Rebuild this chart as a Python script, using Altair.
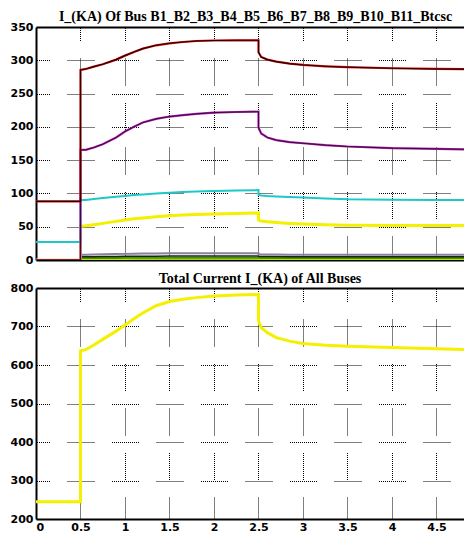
import altair as alt
import pandas as pd

# time points (s)
t = [0, 0.5, 0.5, 0.56, 0.65, 0.75, 0.9, 1.0, 1.1, 1.2, 1.35, 1.5, 1.65, 1.8, 2.0, 2.25, 2.5,
     2.5, 2.53, 2.6, 2.7, 2.85, 3.0, 3.25, 3.5, 4.0, 4.5, 4.9]

# bus currents I_(KA)
bus_red    = [88, 88, 285.5, 287, 290.5, 294, 301, 307, 312.5, 317.5, 322.5, 325.5, 327.5, 329, 329.7, 330, 330,
              312, 305, 301, 298, 295, 293, 291, 289.6, 288, 287, 286.6]
bus_purple = [0, 0, 165.4, 165.5, 169, 174, 184, 193, 200, 206.5, 212, 215.5, 217.5, 219.5, 221.4, 222.3, 222.8,
              199, 190, 184, 180, 177, 175.4, 172.5, 170.5, 168, 167, 166]
bus_cyan   = [27, 27, 90, 90.3, 91.5, 93, 95, 96.3, 97.5, 98.5, 100, 101, 102, 102.8, 103.7, 104.5, 105,
              98, 96.8, 96, 95.3, 94.5, 93.8, 92.5, 91.3, 90.5, 90.2, 90]
bus_yellow = [0, 0, 51, 51.3, 53, 55, 58, 60, 61.8, 63.2, 65, 66.5, 67.5, 68.3, 69, 70, 70.5,
              60, 58.5, 57.3, 56.3, 55, 54, 53, 52.3, 52, 51.8, 51.7]
bus_gray   = [0, 0, 8, 8, 8.2, 8.5, 9, 9.2, 9.4, 9.6, 9.8, 10, 10, 10, 10, 10, 10,
              8.5, 8.3, 8.2, 8.1, 8, 8, 8, 8, 8, 8, 8]
bus_black  = [0, 0, 5, 5, 5, 5.2, 5.4, 5.5, 5.6, 5.7, 5.8, 6, 6, 6, 6, 6, 6,
              5.5, 5.3, 5.2, 5.1, 5, 5, 5, 5, 5, 5, 5]
bus_green  = [0, 0, 3, 3, 3, 3, 3.1, 3.2, 3.2, 3.3, 3.3, 3.4, 3.4, 3.5, 3.5, 3.5, 3.5,
              3.2, 3.1, 3.1, 3, 3, 3, 3, 3, 3, 3, 3]
bus_lime   = [0, 0, 1.5, 1.5, 1.5, 1.5, 1.6, 1.6, 1.7, 1.7, 1.7, 1.8, 1.8, 1.8, 1.8, 1.8, 1.8,
              1.6, 1.6, 1.5, 1.5, 1.5, 1.5, 1.5, 1.5, 1.5, 1.5, 1.5]

# total current
total = [245, 245, 637, 640, 652, 666.6, 688, 704, 720, 735, 754, 765, 771, 775, 779, 781.5, 783,
         715, 697, 684, 671, 662, 656, 651.5, 648.7, 645.4, 642, 640]

x_ticks = [0, 0.5, 1, 1.5, 2, 2.5, 3, 3.5, 4, 4.5]
y_top_ticks = [0, 50, 100, 150, 200, 250, 300, 350]
y_bot_ticks = [200, 300, 400, 500, 600, 700, 800]

title_top = "I_(KA) Of Bus B1_B2_B3_B4_B5_B6_B7_B8_B9_B10_B11_Btcsc"
title_bot = "Total Current I_(KA) of All Buses"

W, H1, H2 = 428, 233, 231
xdom = [0, 4.809]

def frame(vals):
    return pd.DataFrame({"t": t, "v": vals, "i": list(range(len(t)))})

xscale = alt.Scale(domain=xdom, nice=False)
ax_none = alt.X("t:Q", scale=xscale, axis=None)
ax_topline = alt.X("t:Q", scale=xscale,
                   axis=alt.Axis(orient="top", labels=False, ticks=False, grid=False, title=None))
ax_grid_top = alt.X("t:Q", scale=xscale,
                    axis=alt.Axis(values=x_ticks, labels=False, ticks=False, title=None, grid=True))
ax_bottom = alt.X("t:Q", scale=xscale,
                  axis=alt.Axis(values=x_ticks, title=None, ticks=False, labelPadding=2, grid=True,
                                labelExpr="format(datum.value, '~g')"))

ys_top = alt.Y("v:Q", scale=alt.Scale(domain=[0, 350], nice=False),
               axis=alt.Axis(values=y_top_ticks, title=None, grid=True))
ys_bot = alt.Y("v:Q", scale=alt.Scale(domain=[200, 800], nice=False),
               axis=alt.Axis(values=y_bot_ticks, title=None, grid=True))

def line(vals, color, width, xs, ys, opacity=1):
    return alt.Chart(frame(vals)).mark_line(color=color, strokeWidth=width, clip=True,
                                            opacity=opacity).encode(x=xs, y=ys, order="i:Q")

top_layers = [
    line(bus_lime, "#c8e000", 2, ax_grid_top, ys_top),
    line(bus_green, "#3a9a00", 2, ax_none, ys_top),
    line(bus_black, "#202020", 1.5, ax_none, ys_top),
    line(bus_gray, "#8a7fa0", 2, ax_none, ys_top),
    line(bus_yellow, "#f4f000", 3, ax_none, ys_top),
    line(bus_cyan, "#1cc8c8", 2, ax_none, ys_top),
    line(bus_purple, "#b020b0", 2.2, ax_none, ys_top),
    line(bus_purple, "#3a0a3a", 1, ax_none, ys_top),
    line(bus_red, "#d01010", 2.2, ax_none, ys_top),
    line(bus_red, "#200000", 1.1, ax_topline, ys_top),
]
top = alt.layer(*top_layers).resolve_axis(x="independent").properties(
    width=W, height=H1, title=alt.TitleParams(title_top, offset=-3, dx=5.5))

bot = alt.layer(
    line(total, "#f4f000", 3, ax_bottom, ys_bot),
    line(total, "#f4f000", 0.1, ax_topline, ys_bot, opacity=0),
).resolve_axis(x="independent").properties(
    width=W, height=H2, title=alt.TitleParams(title_bot, offset=-4, dx=10))

grid_dash = [1, 1] * 13 + [1, 17.5]

chart = alt.vconcat(top, bot, spacing=7).properties(
    padding={"left": 0, "top": 2, "right": 0, "bottom": 0}
).configure_view(
    stroke=None
).configure_axis(
    domainColor="black", domainWidth=2, labelFont="DejaVu Sans", labelFontWeight="bold",
    labelFontSize=11, labelColor="black", gridColor="#000000", gridOpacity=1,
    gridDash=grid_dash, gridDashOffset=13.5, gridWidth=1, ticks=False
).configure_axisY(
    minExtent=28, maxExtent=28, labelPadding=3
).configure_title(
    font="Liberation Serif", fontWeight="bold", fontSize=14, color="black",
    anchor="middle"
)

chart.save("out.html", embed_options={"renderer": "svg", "actions": False})
